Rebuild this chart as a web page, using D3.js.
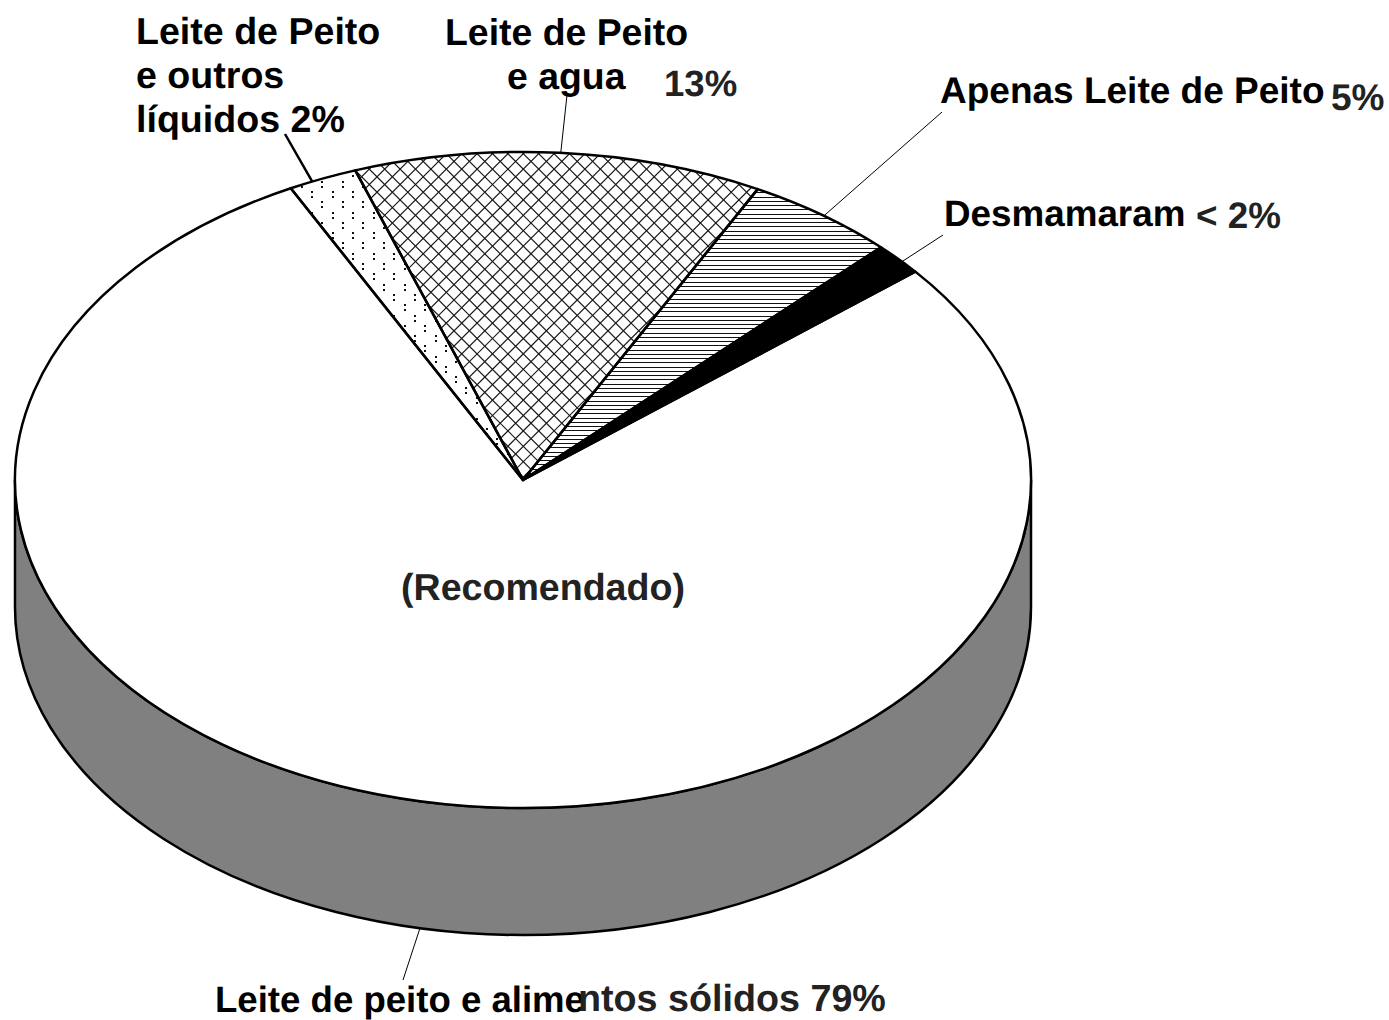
<!DOCTYPE html>
<html>
<head>
<meta charset="utf-8">
<script src="https://cdn.jsdelivr.net/npm/d3@7"></script>
<style>
  html, body { margin: 0; padding: 0; background: #fff; }
  svg { display: block; }
  text { font-family: 'Liberation Sans', Arial, sans-serif; font-weight: bold; text-rendering: geometricPrecision; }
</style>
</head>
<body>
<div id="chart"></div>
<script>
// percentages, clockwise from the dotted slice
const categories = ['Leite de Peito e outros líquidos', 'Leite de Peito e agua', 'Apenas Leite de Peito', 'Desmamaram', 'Leite de peito e alimentos sólidos']
const shares = [2.2, 13, 4.8, 1.6, 78.4]
const fills = ['#fff', '#fff', '#fff', '#000', '#fff']

const labelTexts = ['Leite de Peito', 'e outros', 'líquidos 2%', 'Leite de Peito', 'e agua', '13%', 'Apenas Leite de Peito', '5%', 'Desmamaram', '< 2%', '(Recomendado)', 'Leite de peito e alime', 'ntos sólidos 79%']
const labelX = [136, 136, 136, 445, 507, 664, 940, 1331, 944, 1196, 401, 215, 578]
const labelY = [44, 88, 132, 45, 89, 96, 103, 110, 226, 228, 600, 1012, 1011]
const labelSizes = [37.6, 37.6, 37.6, 37.4, 37.4, 36.6, 37, 37, 36.8, 36.8, 37.6, 36.6, 37.7]
const labelColors = ['#000', '#000', '#000', '#000', '#000', '#222', '#000', '#222', '#000', '#222', '#222', '#000', '#222']

// leader lines: slice index, fraction of the slice where it leaves the rim, far end
const leaderSlice = [0, 1, 2, 3]
const leaderAt = [0.34, 0.503, 0.51, 0.6]
const leaderEndX = [285, 567, 942, 943]
const leaderEndY = [134, 95, 112, 235]
const leaderWidth = [2.5, 1, 1, 1]

const width = 1389
const height = 1020
const cx = 523
const cy = 480
const rx = 508
const ry = 328
const depth = 127
const startAngle = -27.2 * Math.PI / 180

const svg = d3
  .select('#chart')
  .append('svg')
  .attr('width', width)
  .attr('height', height)
  .attr('viewBox', '0 0 ' + width + ' ' + height)

const pie = d3.pie().sort(null).startAngle(startAngle).endAngle(startAngle + 2 * Math.PI)
const arcs = pie(shares)

// d3.arc only does circles, so project the pie angle onto the ellipse here
const rim = (a) => [cx + rx * Math.sin(a), cy - ry * Math.cos(a)]

const slicePath = (d) => {
  const s = rim(d.startAngle)
  const e = rim(d.endAngle)
  const large = d.endAngle - d.startAngle > Math.PI ? 1 : 0
  return `M${cx},${cy}L${s}A${rx},${ry} 0 ${large} 1 ${e}Z`
}

// side wall of the disc
svg.append('path')
  .attr('d', `M${cx - rx},${cy}A${rx},${ry} 0 0 0 ${cx + rx},${cy}L${cx + rx},${cy + depth}A${rx},${ry} 0 0 1 ${cx - rx},${cy + depth}Z`)
  .attr('fill', '#808080')
  .attr('stroke', '#000')
  .attr('stroke-width', 2.5)

svg.append('g')
  .selectAll('path')
  .data(arcs)
  .enter()
  .append('path')
  .attr('d', slicePath)
  .attr('fill', (d, i) => fills[i])
  .append('title')
  .text((d, i) => categories[i])

// hatching is drawn as real lines clipped to the slice, svg patterns blur at this pitch
const defs = svg.append('defs')
arcs.forEach((d, i) => {
  defs.append('clipPath').attr('id', 'slice-' + i).append('path').attr('d', slicePath(d))
})

const crossStep = 15.4
const crossLines = d3.range(-60, 100).map((k) => k * crossStep)
const crossG = svg.append('g').attr('clip-path', 'url(#slice-1)')
crossG.selectAll('path')
  .data(crossLines)
  .enter()
  .append('path')
  .attr('d', (c) => `M${c},0L${c + 600},600M${c + 600},0L${c},600`)
  .attr('fill', 'none')
  .attr('stroke', '#1a1a1a')
  .attr('stroke-width', 1.2)

const lineStep = 4.25
const lineG = svg.append('g').attr('clip-path', 'url(#slice-2)').attr('shape-rendering', 'crispEdges')
lineG.selectAll('line')
  .data(d3.range(0, 90).map((k) => Math.round(154 + k * lineStep)))
  .enter()
  .append('line')
  .attr('x1', 500)
  .attr('x2', 920)
  .attr('y1', (y) => y + 0.5)
  .attr('y2', (y) => y + 0.5)
  .attr('stroke', '#111')
  .attr('stroke-width', 1)

const dotStep = 10.3
const dotCells = d3.cross(d3.range(0, 24), d3.range(0, 34)).filter((c) => (c[0] + c[1]) % 2 === 0)
const dotG = svg.append('g').attr('clip-path', 'url(#slice-0)')
dotG.selectAll('path')
  .data(dotCells)
  .enter()
  .append('path')
  .attr('d', (c) => {
    const x = Math.round(280 + c[0] * dotStep)
    const y = Math.round(160 + c[1] * dotStep)
    return `M${x},${y}h2v2h-2zM${x},${y + 5}h2v2h-2z`
  })
  .attr('fill', '#111')

// slice outlines go on top of the hatching
svg.append('g')
  .selectAll('path')
  .data(arcs)
  .enter()
  .append('path')
  .attr('d', slicePath)
  .attr('fill', 'none')
  .attr('stroke', '#000')
  .attr('stroke-width', 2.5)
  .attr('stroke-linejoin', 'round')

svg.append('g')
  .selectAll('line')
  .data(leaderSlice)
  .enter()
  .append('line')
  .attr('x1', (s, i) => rim(arcs[s].startAngle + leaderAt[i] * (arcs[s].endAngle - arcs[s].startAngle))[0])
  .attr('y1', (s, i) => rim(arcs[s].startAngle + leaderAt[i] * (arcs[s].endAngle - arcs[s].startAngle))[1])
  .attr('x2', (s, i) => leaderEndX[i])
  .attr('y2', (s, i) => leaderEndY[i])
  .attr('stroke', '#000')
  .attr('stroke-width', (s, i) => leaderWidth[i])

// the big slice's leader comes off the front of the wall
svg.append('line')
  .attr('x1', 420)
  .attr('y1', 928)
  .attr('x2', 403)
  .attr('y2', 980)
  .attr('stroke', '#000')
  .attr('stroke-width', 1)

svg.append('g')
  .selectAll('text')
  .data(labelTexts)
  .enter()
  .append('text')
  .attr('x', (d, i) => labelX[i])
  .attr('y', (d, i) => labelY[i])
  .attr('font-size', (d, i) => labelSizes[i])
  .attr('fill', (d, i) => labelColors[i])
  .text((d) => d)
</script>
</body>
</html>
